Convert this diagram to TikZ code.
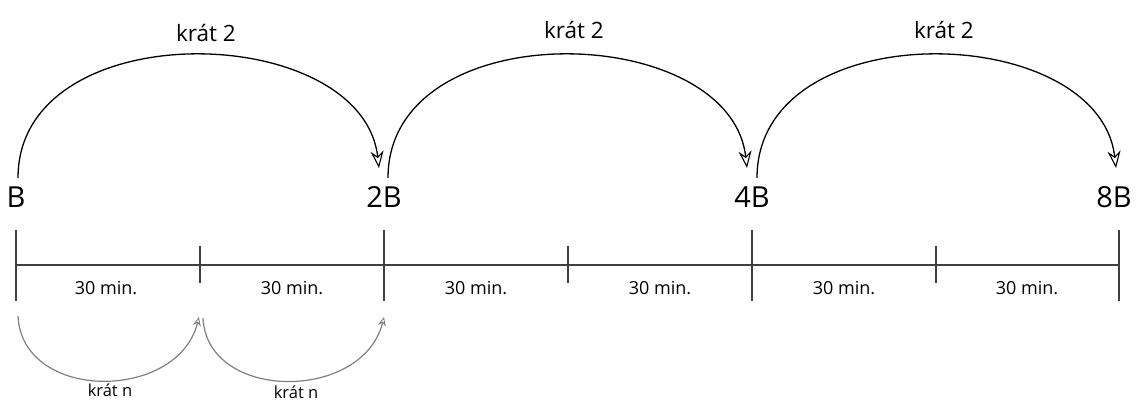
\documentclass[tikz,border=0pt]{standalone}
\usepackage{fontspec}
\setmainfont{Open Sans}
\usetikzlibrary{arrows.meta}
\begin{document}
\begin{tikzpicture}[x=1pt,y=-1pt,
  axis/.style={line width=1.6pt,draw=black!75},
  bigarc/.style={line width=1.3pt,-{Stealth[open,length=17pt,width=13pt,inset=5.5pt,line width=1.1pt]}},
  smallarc/.style={line width=1.2pt,draw=black!50,-{Stealth[open,length=9pt,width=8pt,inset=3pt,line width=0.9pt]}},
  biglbl/.style={font=\fontsize{29}{30}\selectfont,inner sep=0pt},
  seglbl/.style={font=\fontsize{18}{20}\selectfont,inner sep=0pt},
  krat/.style={font=\fontsize{22.5}{24}\selectfont,inner sep=0pt},
  kratn/.style={font=\fontsize{16.5}{18}\selectfont,inner sep=0pt}]
\useasboundingbox (0,0) rectangle (1137,401);
% axis
\coordinate (a0) at (16,265);
\coordinate (a6) at (1119,265);
\draw[axis] (a0) -- (a6);
\foreach \x/\n in {16/t0,384/t2,752/t4,1119/t6}{
  \coordinate (\n top) at (\x,230);
  \coordinate (\n bot) at (\x,301);
  \draw[axis] (\n top) -- (\n bot);
}
\foreach \x/\n in {200/t1,568/t3,936/t5}{
  \coordinate (\n top) at (\x,246);
  \coordinate (\n bot) at (\x,283);
  \draw[axis] (\n top) -- (\n bot);
}
\foreach \x/\n in {106/s1,292/s2,476/s3,660/s4,844/s5,1027/s6}{
  \node[seglbl] (\n) at (\x,288) {30 min.};
}
% labels
\node[biglbl] (B) at (16,197) {B};
\node[biglbl] (B2) at (384,197) {2B};
\node[biglbl] (B4) at (752,197) {4B};
\node[biglbl] (B8) at (1114,197) {8B};
% big arcs
\coordinate (p0) at (18,178);
\coordinate (q0) at (379,168);
\coordinate (p1) at (388,178);
\coordinate (q1) at (747,168);
\coordinate (p2) at (757,178);
\coordinate (q2) at (1116,168);
\draw[bigarc] (p0) .. controls (18,12) and (362,20) .. (q0);
\draw[bigarc] (p1) .. controls (388,12) and (730,20) .. (q1);
\draw[bigarc] (p2) .. controls (757,12) and (1099,20) .. (q2);
\node[krat] (k1) at (206,33) {krát 2};
\node[krat] (k2) at (574,30) {krát 2};
\node[krat] (k3) at (944,30) {krát 2};
% small arcs
\coordinate (r0) at (18,316);
\coordinate (u0) at (199,317);
\coordinate (r1) at (203,318);
\coordinate (u1) at (384,317);
\draw[smallarc] (r0) .. controls (22,402) and (178,402) .. (u0);
\draw[smallarc] (r1) .. controls (207,402) and (363,402) .. (u1);
\node[kratn] (n1) at (110,390) {krát n};
\node[kratn] (n2) at (296,392) {krát n};
\end{tikzpicture}
\end{document}
